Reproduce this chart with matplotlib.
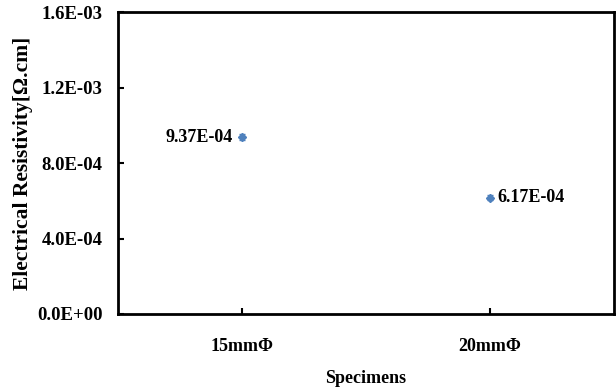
import numpy as np
import matplotlib.pyplot as plt
from matplotlib.ticker import FuncFormatter

specimens = ["15mm\u03a6", "20mm\u03a6"]
resistivity = [9.37e-4, 6.17e-4]
errors = [1.5e-5, 1.2e-5]
labels = ["9.37E-04", "6.17E-04"]
yticks = [0.0, 4.0e-4, 8.0e-4, 1.2e-3, 1.6e-3]

plt.rcParams['font.family'] = ['Liberation Serif', 'DejaVu Serif']
plt.rcParams['font.weight'] = 'bold'

fig = plt.figure(figsize=(6.16, 3.92), dpi=100)
ax = fig.add_axes([0.1916, 0.199, 0.8052, 0.770])

x = np.arange(1, len(specimens) + 1)
ax.errorbar(x, resistivity, yerr=errors, fmt='D', color='#4F81BD',
            markersize=4, ecolor='#4F81BD', elinewidth=1, capsize=2)

ax.annotate(labels[0], (x[0], resistivity[0]), xytext=(-7, 0),
            textcoords='offset points', ha='right', va='center',
            fontsize=13, fontweight='bold')
ax.annotate(labels[1], (x[1], resistivity[1]), xytext=(5, 0),
            textcoords='offset points', ha='left', va='center',
            fontsize=13, fontweight='bold')

ax.set_xlim(0.5, 2.5)
ax.set_ylim(0, 1.6e-3)
ax.set_xticks(x)
ax.set_xticklabels(specimens)
ax.set_yticks(yticks)
ax.yaxis.set_major_formatter(FuncFormatter(lambda v, p: "{:.1E}".format(v)))
ax.tick_params(direction='in', length=4, width=1.5, pad=11)
ax.tick_params(axis='y', labelsize=13.5)
ax.tick_params(axis='x', labelsize=13, pad=17)
for s in ax.spines.values():
    s.set_linewidth(2)

ax.set_xlabel("Specimens", fontsize=13, fontweight='bold', labelpad=11)
ax.set_ylabel("Electrical Resistivity[\u03a9.cm]", fontsize=15.5,
              fontweight='bold', labelpad=3)

plt.savefig("out.png", dpi=100)
plt.close("all")
